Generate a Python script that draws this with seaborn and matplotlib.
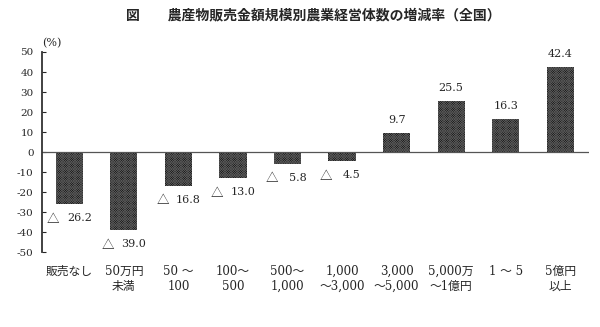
import matplotlib
matplotlib.use("Agg")
import matplotlib.pyplot as plt
import seaborn as sns
import pandas as pd

categories = ["販売なし", "50万円\n未満", "50 ～\n100", "100～\n500", "500～\n1,000",
              "1,000\n～3,000", "3,000\n～5,000", "5,000万\n～1億円", "1 ～ 5", "5億円\n以上"]
values = [-26.2, -39.0, -16.8, -13.0, -5.8, -4.5, 9.7, 25.5, 16.3, 42.4]
yticks = [50, 40, 30, 20, 10, 0, -10, -20, -30, -40, -50]
title = "図　　農産物販売金額規模別農業経営体数の増減率（全国）"

sns.set_style("white")
serif_fam = ["DejaVu Serif", "Noto Sans CJK JP", "DejaVu Sans"]
plt.rcParams["font.family"] = serif_fam
plt.rcParams["hatch.linewidth"] = 0.5

df = pd.DataFrame({"cat": categories, "val": values})

fig = plt.figure(figsize=(6, 3.27), dpi=100)
ax = fig.add_axes([0.07, 0.229, 0.912, 0.612])
sns.barplot(data=df, x="cat", y="val", ax=ax, color="#0d0d0d", width=0.5,
            saturation=1, edgecolor="#585858", linewidth=0)
for p in ax.patches:
    p.set_hatch("x" * 14)

ax.set_xlim(-0.5, 9.53)
ax.set_ylim(-50, 50)
ax.set_yticks(yticks)
ax.set_yticklabels([str(t) for t in yticks], fontsize=7.5)
ax.tick_params(axis="y", direction="in", length=3, width=0.8, pad=6, left=True)
ax.tick_params(axis="x", length=0, pad=9, labelsize=8.5)
ax.set_xticks(range(len(categories)))
ax.set_xticklabels(categories, fontsize=8.5, linespacing=1.25, va="top")
ax.set_xlabel("")
ax.set_ylabel("")
for s in ["top", "right", "bottom"]:
    ax.spines[s].set_visible(False)
ax.spines["left"].set_linewidth(1.3)
ax.spines["left"].set_color("#333333")
ax.axhline(0, color="#555555", linewidth=0.9)

for i, v in enumerate(values):
    if v < 0:
        ax.annotate("△", (i, v), xytext=(-16, -15), textcoords="offset pixels",
                    ha="center", va="center", fontsize=9,
                    family=["Noto Sans CJK JP", "DejaVu Sans"])
        ax.annotate(f"{abs(v):.1f}", (i, v), xytext=(10, -14), textcoords="offset pixels",
                    ha="center", va="center", fontsize=8)
    else:
        ax.annotate(f"{v:.1f}", (i, v), xytext=(0, 13), textcoords="offset pixels",
                    ha="center", va="center", fontsize=8)

ax.text(0.0, 1.02, "(%)", transform=ax.transAxes, fontsize=8, ha="left", va="bottom")
fig.text(0.523, 0.954, title, ha="center", va="center", fontsize=10, fontweight="bold",
         family=["Noto Sans CJK JP", "DejaVu Sans"])

fig.savefig("out.png", dpi=100)
